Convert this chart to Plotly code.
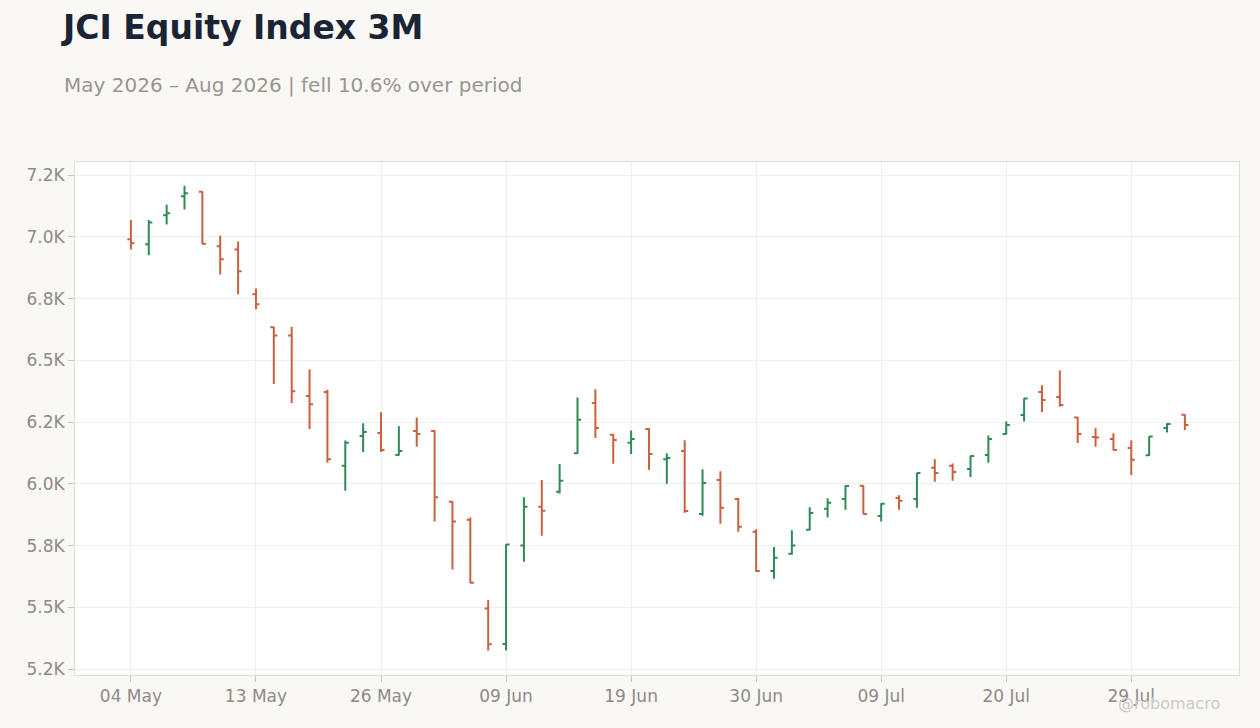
import plotly.graph_objects as go

# Trading days (JCI, holidays skipped)
dates = [
    "2026-05-04", "2026-05-05", "2026-05-06", "2026-05-07", "2026-05-08",
    "2026-05-11", "2026-05-12", "2026-05-13", "2026-05-18", "2026-05-19",
    "2026-05-20", "2026-05-21", "2026-05-22", "2026-05-25", "2026-05-26",
    "2026-05-28", "2026-06-02", "2026-06-03", "2026-06-04", "2026-06-05",
    "2026-06-08", "2026-06-09", "2026-06-10", "2026-06-11", "2026-06-12",
    "2026-06-15", "2026-06-17", "2026-06-18", "2026-06-19", "2026-06-22",
    "2026-06-23", "2026-06-24", "2026-06-25", "2026-06-26", "2026-06-29",
    "2026-06-30", "2026-07-01", "2026-07-02", "2026-07-03", "2026-07-06",
    "2026-07-07", "2026-07-08", "2026-07-09", "2026-07-10", "2026-07-13",
    "2026-07-14", "2026-07-15", "2026-07-16", "2026-07-17", "2026-07-20",
    "2026-07-21", "2026-07-22", "2026-07-23", "2026-07-24", "2026-07-27",
    "2026-07-28", "2026-07-29", "2026-07-30", "2026-07-31", "2026-08-03",
]

open_ = [
    6990, 6970, 7087, 7164, 7183, 6962, 6949, 6768, 6634, 6601,
    6356, 6372, 6073, 6194, 6206, 6117, 6214, 6214, 5927, 5855,
    5495, 5352, 5750, 5907, 5968, 6124, 6327, 6199, 6166, 6222,
    6100, 6133, 5878, 6016, 5939, 5806, 5647, 5717, 5814, 5899,
    5939, 5992, 5870, 5943, 5939, 6065, 6073, 6060, 6117, 6202,
    6279, 6372, 6352, 6269, 6190, 6182, 6145, 6116, 6226, 6280,
]
high = [
    7068, 7068, 7130, 7207, 7185, 7005, 6981, 6791, 6637, 6636,
    6463, 6381, 6175, 6245, 6290, 6233, 6269, 6217, 5929, 5864,
    5530, 5755, 5946, 6015, 6080, 6350, 6383, 6202, 6216, 6226,
    6124, 6176, 6059, 6051, 5943, 5816, 5744, 5812, 5905, 5942,
    5994, 5994, 5921, 5954, 6045, 6100, 6082, 6114, 6196, 6252,
    6346, 6399, 6459, 6272, 6225, 6205, 6176, 6193, 6245, 6282,
]
low = [
    6949, 6925, 7050, 7111, 6970, 6848, 6768, 6707, 6404, 6327,
    6222, 6085, 5972, 6129, 6129, 6115, 6150, 5847, 5653, 5597,
    5325, 5325, 5685, 5790, 5961, 6122, 6186, 6081, 6121, 6057,
    6000, 5883, 5871, 5838, 5806, 5643, 5616, 5713, 5812, 5864,
    5895, 5877, 5847, 5895, 5903, 6008, 6012, 6028, 6085, 6200,
    6252, 6291, 6312, 6165, 6150, 6135, 6036, 6113, 6208, 6218,
]
close = [
    6974, 7058, 7095, 7176, 6972, 6909, 6861, 6727, 6601, 6375,
    6322, 6100, 6166, 6210, 6137, 6133, 6202, 5946, 5847, 5600,
    5350, 5754, 5907, 5891, 6012, 6259, 6226, 6177, 6182, 6121,
    6105, 5890, 6003, 5903, 5826, 5647, 5701, 5750, 5882, 5923,
    5991, 5878, 5919, 5931, 6044, 6044, 6048, 6113, 6182, 6238,
    6345, 6339, 6319, 6202, 6188, 6137, 6097, 6192, 6242, 6238,
]

# axis ticks
x_tickvals = dates[::7]
x_ticktext = ["04 May", "13 May", "26 May", "09 Jun", "19 Jun",
              "30 Jun", "09 Jul", "20 Jul", "29 Jul"]
y_tickvals = [5250, 5500, 5750, 6000, 6250, 6500, 6750, 7000, 7250]
y_ticktext = ["5.2K", "5.5K", "5.8K", "6.0K", "6.2K", "6.5K", "6.8K", "7.0K", "7.2K"]

fig = go.Figure(go.Ohlc(
    x=dates, open=open_, high=high, low=low, close=close,
    increasing=dict(line=dict(color="#2e8b57", width=2)),
    decreasing=dict(line=dict(color="#c9613f", width=2)),
    tickwidth=0.2,
    showlegend=False,
    hoverinfo="skip",
))

axis_font = dict(family="DejaVu Sans", size=17, color="#8f8a84")

fig.update_layout(
    width=1260, height=728,
    paper_bgcolor="#f9f8f5",
    plot_bgcolor="#ffffff",
    margin=dict(l=75, r=21, t=162, b=53),
    font=dict(family="DejaVu Sans"),
    title=dict(
        text="<b>JCI Equity Index 3M</b>",
        font=dict(family="DejaVu Sans", size=33, color="#1b2435"),
        xref="container", x=0.05, xanchor="left",
        yref="container", y=0.962, yanchor="middle",
    ),
    xaxis=dict(
        type="category",
        range=[-3.13, 62.03],
        tickvals=x_tickvals, ticktext=x_ticktext,
        tickfont=axis_font,
        ticks="outside", ticklen=6, tickcolor="#c9c5bf",
        showgrid=True, gridcolor="#f0efed",
        showline=True, linecolor="#e0dbd4", mirror=True,
        rangeslider=dict(visible=False),
        zeroline=False,
    ),
    yaxis=dict(
        range=[5226, 7303],
        tickvals=y_tickvals, ticktext=y_ticktext,
        tickfont=axis_font,
        ticks="outside", ticklen=6, tickcolor="#c9c5bf",
        showgrid=True, gridcolor="#f0efed",
        showline=True, linecolor="#e0dbd4", mirror=True,
        zeroline=False,
    ),
    annotations=[
        dict(
            text="May 2026 – Aug 2026 | fell 10.6% over period",
            xref="paper", yref="paper", x=-0.0115, y=1.150,
            xanchor="left", yanchor="middle", showarrow=False,
            font=dict(family="DejaVu Sans", size=20, color="#9a9590"),
        ),
        dict(
            text="@robomacro",
            xref="paper", yref="paper", x=0.985, y=-0.0565,
            xanchor="right", yanchor="middle", showarrow=False,
            font=dict(family="DejaVu Sans", size=16, color="#cdcac5"),
        ),
    ],
)

# page body has a default 8px margin; drop it so the figure sits at 0,0
fig.write_html(
    "out.html",
    config={"displayModeBar": False},
    post_script="document.body.style.margin='0';",
)
